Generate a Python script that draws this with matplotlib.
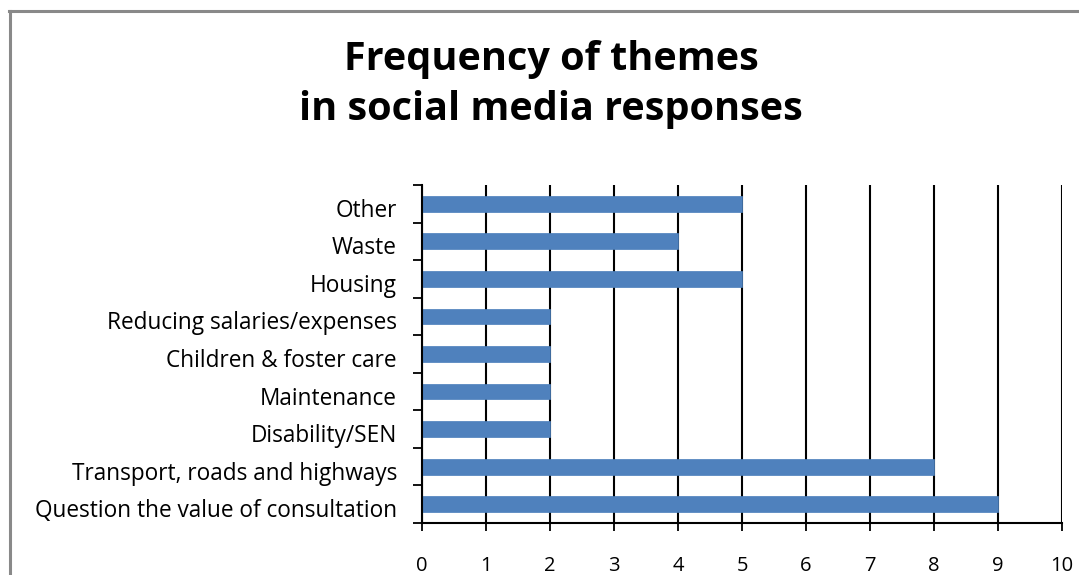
import matplotlib
matplotlib.use("Agg")
import matplotlib.pyplot as plt
from matplotlib.lines import Line2D
from matplotlib.transforms import ScaledTranslation
import numpy as np

categories = ["Question the value of consultation", "Transport, roads and highways",
              "Disability/SEN", "Maintenance", "Children & foster care",
              "Reducing salaries/expenses", "Housing", "Waste", "Other"]
values = [9, 8, 2, 2, 2, 2, 5, 4, 5]
xticks = list(range(0, 11))

plt.rcParams['font.family'] = ['Open Sans', 'DejaVu Sans']
W, H = 1079, 575
fig = plt.figure(figsize=(W/100, H/100), dpi=100)
# chart-area border (left and top visible)
fig.lines.append(Line2D([10/W, 10/W], [0, 1 - 10.5/H], transform=fig.transFigure,
                        color='#898989', lw=2.2))
fig.lines.append(Line2D([9/W, 1], [1 - 10.5/H, 1 - 10.5/H], transform=fig.transFigure,
                        color='#898989', lw=2.2))

ax = fig.add_axes([422/W, 1 - 523/H, (1062-422)/W, (523-185)/H])
y = np.arange(len(categories))
ax.barh(y, values, height=0.42, color='#4F81BD', edgecolor='#4A7EBB', lw=0.5, zorder=3)
ax.set_xlim(0, 10)
ax.set_ylim(-0.5, len(categories) - 0.5)
ax.set_xticks(xticks)
ax.set_xticklabels([str(t) for t in xticks], fontsize=14.5)
ax.set_yticks(y)
ax.set_yticklabels(categories, fontsize=16.3)
ax.set_yticks(np.arange(-0.5, len(categories)), minor=True)
ax.tick_params(axis='y', which='major', length=0, pad=18)
ax.tick_params(axis='y', which='minor', length=6.5, width=1.3, direction='out')
ax.tick_params(axis='x', length=6, width=1.3, direction='out', pad=18)
ax.grid(axis='x', color='black', lw=1.5, zorder=1)
for s in ['top', 'right']:
    ax.spines[s].set_visible(False)
for s in ['left', 'bottom']:
    ax.spines[s].set_linewidth(1.5)
    ax.spines[s].set_zorder(4)
shift = ScaledTranslation(0, -4/100, fig.dpi_scale_trans)
for lbl in ax.get_yticklabels():
    lbl.set_transform(lbl.get_transform() + shift)

fig.text(551/W, 1 - 70/H, "Frequency of themes", ha='center', va='baseline',
         fontsize=28.5, fontweight='bold')
fig.text(551/W, 1 - 120/H, "in social media responses", ha='center', va='baseline',
         fontsize=28.5, fontweight='bold')
fig.savefig("out.png", dpi=100)
